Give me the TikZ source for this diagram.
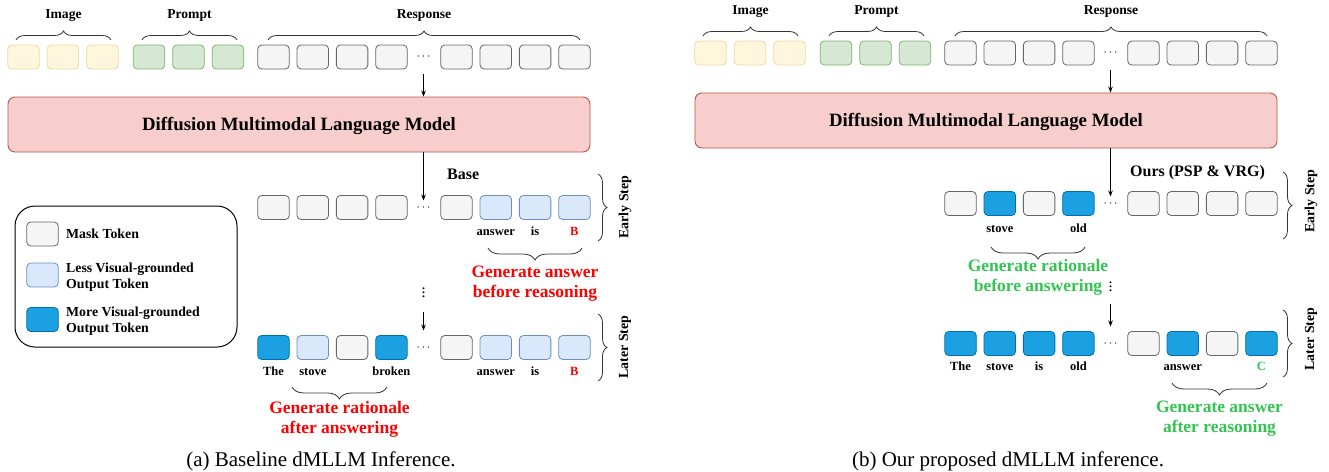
\documentclass[tikz,border=0pt]{standalone}
\usepackage{fontspec}
\setmainfont{Liberation Serif}
\usetikzlibrary{decorations.pathreplacing,arrows.meta,calc}

\definecolor{imgF}{HTML}{FFF6DE}
\definecolor{imgD}{HTML}{EED9A0}
\definecolor{prmF}{HTML}{D5E8D4}
\definecolor{prmD}{HTML}{82B366}
\definecolor{mskF}{HTML}{F5F5F5}
\definecolor{mskD}{HTML}{666666}
\definecolor{lowF}{HTML}{DAE8FC}
\definecolor{lowD}{HTML}{6C8EBF}
\definecolor{highF}{HTML}{1BA1E2}
\definecolor{highD}{HTML}{006EAF}
\definecolor{modelF}{HTML}{F8CECC}
\definecolor{modelD}{HTML}{B85450}
\definecolor{warnRed}{HTML}{FF0000}
\definecolor{okGreen}{HTML}{33C452}
\definecolor{braceC}{HTML}{333333}

\begin{document}
\begin{tikzpicture}[x=1pt,y=-1pt,
  tok/.style={draw, rounded corners=4pt, minimum width=31.5pt, minimum height=24pt, inner sep=0pt, line width=0.8pt},
  img/.style={tok, fill=imgF, draw=imgD},
  prm/.style={tok, fill=prmF, draw=prmD},
  msk/.style={tok, fill=mskF, draw=mskD},
  low/.style={tok, fill=lowF, draw=lowD},
  high/.style={tok, fill=highF, draw=highD},
  head/.style={font=\fontsize{13.6}{16}\selectfont\bfseries, anchor=base, inner sep=0pt},
  title/.style={font=\fontsize{16}{18}\selectfont\bfseries, anchor=base west, inner sep=0pt},
  word/.style={font=\fontsize{12.5}{15}\selectfont\bfseries, anchor=base, inner sep=0pt},
  note/.style={font=\fontsize{17.5}{20}\selectfont\bfseries, align=center, anchor=base, inner sep=0pt},
  legtext/.style={font=\fontsize{13.8}{16}\selectfont\bfseries, align=left, anchor=base west, inner sep=0pt},
  steplabel/.style={font=\fontsize{13.9}{16}\selectfont\bfseries, rotate=90, inner sep=0pt},
  model/.style={draw=modelD, fill=modelF, rounded corners=7pt, line width=0.9pt,
    minimum width=582pt, minimum height=55pt, inner sep=0pt,
    font=\fontsize{18.8}{21}\selectfont\bfseries, text height=12.5pt, text depth=0pt},
  dots/.style={inner sep=0pt, font=\fontsize{12}{14}\selectfont},
  vdots/.style={inner sep=0pt, font=\fontsize{16}{18}\selectfont},
  brc/.style={draw=braceC, line width=0.8pt, decorate, decoration={brace, amplitude=#1}},
  arr/.style={-{Stealth[length=6pt,width=4.5pt]}, line width=0.8pt},
  caption/.style={font=\fontsize{21}{24}\selectfont, anchor=base, inner sep=0pt}
]
\useasboundingbox (0,0) rectangle (1329,471);

% ---------------- (a) baseline ----------------
% input sequence
\foreach \i in {1,2,3} {
  \node[img] (lI\i) at ({23.5+39.5*(\i-1)},57) {};
  \node[prm] (lP\i) at ({149+39.5*(\i-1)},57) {};
}
\foreach \i in {1,...,4} \node[msk] (lR\i) at ({273.5+39.3*(\i-1)},57) {};
\foreach \i in {5,...,8} \node[msk] (lR\i) at ({456.5+39.3*(\i-5)},57) {};
\node[dots] (ltdots) at (423.5,57) {$\cdots$};

\draw[brc=9] (16,40) -- (111,40);
\draw[brc=9] (142,40) -- (237,40);
\draw[brc=9] (268,40) -- (580,40);
\node[head] at (63.5,18.5) {Image};
\node[head] at (189.5,18.5) {Prompt};
\node[head] at (424,18.5) {Response};

\node[model] (lbox) at (299,124.5) {Diffusion Multimodal Language Model};
\draw[arr] ([yshift=-17pt]ltdots.center) -- (ltdots.center |- lbox.north);

% early step
\node[title] at (447,179.5) {Base};
\foreach \s [count=\i] in {msk,msk,msk,msk}
  \node[\s] (lE\i) at ({273.5+39.3*(\i-1)},207.5) {};
\foreach \s [count=\i from 5] in {msk,low,low,low}
  \node[\s] (lE\i) at ({456.5+39.3*(\i-5)},207.5) {};
\node[dots] (ledots) at (423.5,207.5) {$\cdots$};
\draw[arr] (lbox.south -| ledots) -- ([yshift=7pt]ledots.center);
\node[word] at (lE6.center |- 0,235.5) {answer};
\node[word] at (lE7.center |- 0,235.5) {is};
\node[word, text=warnRed] at (lE8.center |- 0,235.5) {B};

\draw[brc=12] (582,248) -- (488,248);
\node[note, text=warnRed] at (535,297) {Generate answer\\before reasoning};

\draw[brc=9] (598,174) -- (598,241);
\node[steplabel] at (625,207) {Early Step};

\node[vdots] (lvdots) at (423.5,290) {$\vdots$};

% later step
\foreach \s [count=\i] in {high,low,msk,high}
  \node[\s] (lL\i) at ({273.5+39.3*(\i-1)},347.5) {};
\foreach \s [count=\i from 5] in {msk,low,low,low}
  \node[\s] (lL\i) at ({456.5+39.3*(\i-5)},347.5) {};
\node[dots] (lldots) at (423.5,347.5) {$\cdots$};
\draw[arr] ([yshift=-22pt]lvdots.center) -- ([yshift=17pt]lldots.center);
\node[word] at (lL1.center |- 0,375.5) {The};
\node[word] at (lL2.center |- 0,375.5) {stove};
\node[word] at (lL4.center |- 0,375.5) {broken};
\node[word] at (lL6.center |- 0,375.5) {answer};
\node[word] at (lL7.center |- 0,375.5) {is};
\node[word, text=warnRed] at (lL8.center |- 0,375.5) {B};

\draw[brc=12] (387,387) -- (292,387);
\node[note, text=warnRed] at (339.5,433) {Generate rationale\\after answering};

\draw[brc=9] (598,314) -- (598,381);
\node[steplabel] at (625,347) {Later Step};

% legend
\node[draw, rounded corners=20pt, line width=1pt, minimum width=222pt, minimum height=141pt] (legend) at (126,276.5) {};
\node[msk] (legM) at (42.5,234) {};
\node[low] (legL) at (42.5,275) {};
\node[high] (legH) at (42.5,319.5) {};
\node[legtext] at (66,238) {Mask Token};
\node[legtext] at (66,288) {Less Visual-grounded\\Output Token};
\node[legtext] at (66,332) {More Visual-grounded\\Output Token};

\node[caption] at (321,466) {(a) Baseline dMLLM Inference.};

% ---------------- (b) proposed ----------------
\begin{scope}[xshift=687pt, yshift=4pt]
\foreach \i in {1,2,3} {
  \node[img] (rI\i) at ({23.5+39.5*(\i-1)},57) {};
  \node[prm] (rP\i) at ({149+39.5*(\i-1)},57) {};
}
\foreach \i in {1,...,4} \node[msk] (rR\i) at ({273.5+39.3*(\i-1)},57) {};
\foreach \i in {5,...,8} \node[msk] (rR\i) at ({456.5+39.3*(\i-5)},57) {};
\node[dots] (rtdots) at (423.5,57) {$\cdots$};

\draw[brc=9] (16,40) -- (111,40);
\draw[brc=9] (142,40) -- (237,40);
\draw[brc=9] (268,40) -- (580,40);
\node[head] at (63.5,18.5) {Image};
\node[head] at (189.5,18.5) {Prompt};
\node[head] at (424,18.5) {Response};

\node[model] (rbox) at (299,124.5) {Diffusion Multimodal Language Model};
\draw[arr] ([yshift=-17pt]rtdots.center) -- (rtdots.center |- rbox.north);

% early step
\node[title] at (443,180) {Ours (PSP \& VRG)};
\foreach \s [count=\i] in {msk,high,msk,high}
  \node[\s] (rE\i) at ({273.5+39.3*(\i-1)},207.5) {};
\foreach \s [count=\i from 5] in {msk,msk,msk,msk}
  \node[\s] (rE\i) at ({456.5+39.3*(\i-5)},207.5) {};
\node[dots] (redots) at (423.5,207.5) {$\cdots$};
\draw[arr] (rbox.south -| redots) -- ([yshift=7pt]redots.center);
\node[word] at (rE2.center |- 0,236.5) {stove};
\node[word] at (rE4.center |- 0,236.5) {old};

\draw[brc=12] (398,251) -- (304,251);
\node[note, text=okGreen] at (351,295) {Generate rationale\\before answering};

\draw[brc=9] (596,176) -- (596,243);
\node[steplabel] at (624,205) {Early Step};

\node[vdots] (rvdots) at (423.5,288) {$\vdots$};

% later step
\foreach \s [count=\i] in {high,high,high,high}
  \node[\s] (rL\i) at ({273.5+39.3*(\i-1)},347.5) {};
\foreach \s [count=\i from 5] in {msk,high,msk,high}
  \node[\s] (rL\i) at ({456.5+39.3*(\i-5)},347.5) {};
\node[dots] (rldots) at (423.5,347.5) {$\cdots$};
\draw[arr] ([yshift=-20pt]rvdots.center) -- ([yshift=17pt]rldots.center);
\node[word] at (rL1.center |- 0,374.5) {The};
\node[word] at (rL2.center |- 0,374.5) {stove};
\node[word] at (rL3.center |- 0,374.5) {is};
\node[word] at (rL4.center |- 0,374.5) {old};
\node[word] at (rL6.center |- 0,374.5) {answer};
\node[word, text=okGreen] at (rL8.center |- 0,374.5) {C};

\draw[brc=12] (580,387) -- (485,387);
\node[note, text=okGreen] at (532.5,436) {Generate answer\\after reasoning};

\draw[brc=9] (596,314) -- (596,381);
\node[steplabel] at (624,343) {Later Step};
\end{scope}

\node[caption] at (1008,466) {(b) Our proposed dMLLM inference.};
\end{tikzpicture}
\end{document}
